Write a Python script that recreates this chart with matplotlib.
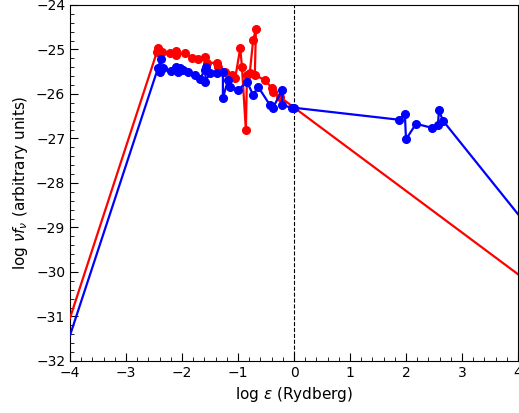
import matplotlib
matplotlib.use("Agg")
import matplotlib.pyplot as plt
from matplotlib.ticker import MultipleLocator

# SED in log energy (Rydberg) vs log nu f_nu
red_x = [-4.00, -2.45, -2.43, -2.36, -2.21, -2.11, -2.11, -1.95, -1.82, -1.71,
         -1.59, -1.55, -1.375, -1.36, -1.23, -1.11, -1.05, -0.96, -0.93, -0.86,
         -0.84, -0.79, -0.73, -0.68, -0.70, -0.52, -0.39, -0.375, -0.25, 4.00]
red_y = [-31.03, -25.06, -24.97, -25.06, -25.08, -25.03, -25.12, -25.08, -25.19, -25.21,
         -25.17, -25.30, -25.30, -25.39, -25.51, -25.57, -25.64, -24.97, -25.39, -26.81,
         -25.57, -25.53, -24.79, -24.54, -25.57, -25.69, -25.87, -25.96, -26.07, -30.05]

blue_x = [-4.00, -2.43, -2.375, -2.39, -2.34, -2.20, -2.11, -2.07, -2.04, -1.98,
          -1.89, -1.77, -1.68, -1.59, -1.57, -1.59, -1.50, -1.375, -1.27, -1.27,
          -1.18, -1.14, -1.00, -0.84, -0.73, -0.64, -0.43, -0.375, -0.21, -0.21,
          -0.04, 0.00, 1.88, 1.98, 2.00, 2.18, 2.46, 2.57, 2.59, 2.66, 4.00]
blue_y = [-31.42, -25.42, -25.21, -25.51, -25.42, -25.48, -25.39, -25.51, -25.42, -25.46,
          -25.51, -25.57, -25.66, -25.46, -25.39, -25.73, -25.53, -25.53, -25.51, -26.09,
          -25.69, -25.84, -25.91, -25.73, -26.02, -25.84, -26.25, -26.31, -25.91, -26.25,
          -26.31, -26.31, -26.58, -26.45, -27.02, -26.67, -26.76, -26.69, -26.37, -26.60,
          -28.70]

x_lim = (-4, 4)
y_lim = (-32, -24)

fig = plt.figure(figsize=(5.19, 4.13), dpi=100)
ax = fig.add_axes([0.135, 0.126, 0.863, 0.862])

# extrapolated end segments carry no markers
ax.plot(red_x, red_y, color="red", lw=1.6, marker="o", ms=5.5,
        markevery=slice(1, -1), zorder=3)
ax.plot(blue_x, blue_y, color="blue", lw=1.6, marker="o", ms=5.5,
        markevery=slice(1, -1), zorder=4)
ax.axvline(0, color="black", lw=0.8, ls="--", zorder=2)

ax.set_xlim(*x_lim)
ax.set_ylim(*y_lim)
ax.xaxis.set_major_locator(MultipleLocator(1))
ax.xaxis.set_minor_locator(MultipleLocator(0.2))
ax.yaxis.set_major_locator(MultipleLocator(1))
ax.yaxis.set_minor_locator(MultipleLocator(0.2))
ax.tick_params(which="both", direction="in", labelsize=10)
ax.tick_params(which="major", length=6)
ax.tick_params(which="minor", length=3)

ax.set_xlabel(r"log $\epsilon$ (Rydberg)", fontsize=11)
ax.set_ylabel(r"log $\nu f_\nu$ (arbitrary units)", fontsize=11)

fig.savefig("out.png", dpi=100)
